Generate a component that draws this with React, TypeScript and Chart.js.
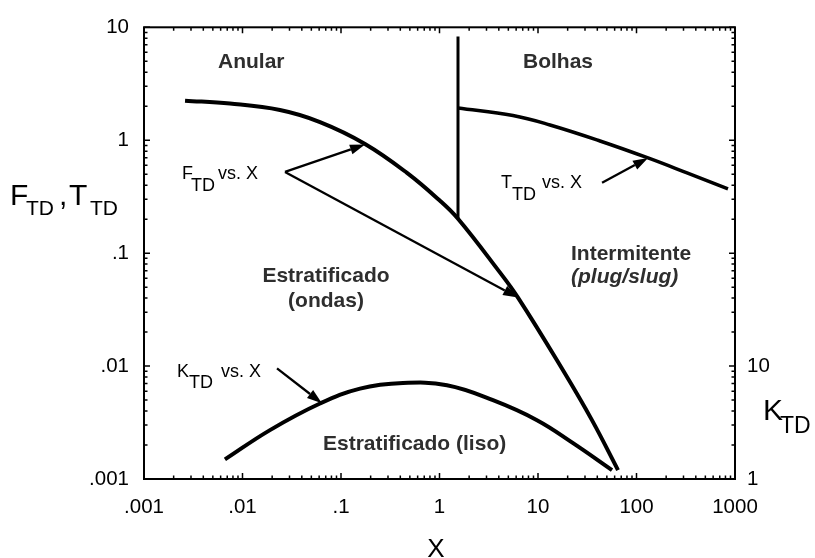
import React, { useEffect, useRef } from 'react';
import { Chart, registerables } from 'chart.js';

Chart.register(...registerables);

const FONT = '"Liberation Sans", Arial, Helvetica, sans-serif';

// Axis ticks
const xTickValues = [0.001, 0.01, 0.1, 1, 10, 100, 1000];
const xTickLabels = ['.001', '.01', '.1', '1', '10', '100', '1000'];
const yTickValues = [0.001, 0.01, 0.1, 1, 10];
const yTickLabels = ['.001', '.01', '.1', '1', '10'];
const kTickValues = [1, 10];
const kTickLabels = ['1', '10'];

// F_TD vs. X transition boundary
const fX = [0.00261, 0.00746, 0.024, 0.0612, 0.1753, 0.4677, 1.012, 1.541, 3.836, 6.266, 17.94, 35.3, 64.9];
const fY = [2.24, 2.11, 1.85, 1.447, 0.927, 0.514, 0.291, 0.2017, 0.0729, 0.0404, 0.00917, 0.00332, 0.0012];

// Vertical boundary between annular and intermittent/bubble flow
const vX = [1.541, 1.541];
const vY = [0.2017, 8.3];

// T_TD vs. X boundary
const tX = [1.541, 5.574, 13.24, 42.6, 130.9, 325.6, 849];
const tY = [1.927, 1.654, 1.364, 0.985, 0.697, 0.514, 0.371];

// K_TD vs. X boundary (right axis)
const kX = [0.00663, 0.019, 0.0612, 0.156, 0.426, 1.19, 3.49, 9.77, 22.7, 56.4];
const kY = [1.49, 2.71, 4.66, 6.32, 7.08, 6.76, 4.99, 3.32, 2.08, 1.2];

// Pointer arrows: [xFrom, yFrom, xTo, yTo, axis]
const arrowF1 = [0.027, 0.524, 0.1753, 0.915, 'y'];
const arrowF2 = [0.027, 0.524, 6.266, 0.0404, 'y'];
const arrowT = [44.7, 0.42, 130.9, 0.697, 'y'];
const arrowK = [0.0224, 9.55, 0.064, 4.69, 'y2'];

const pts = (xs: number[], ys: number[]) => xs.map((x, i) => ({ x, y: ys[i] }));

const lineStyle = (w: number, tension: number) => ({
  showLine: true,
  borderColor: '#000',
  backgroundColor: '#000',
  borderWidth: w,
  pointRadius: 0,
  pointHoverRadius: 0,
  tension,
  borderCapStyle: 'butt' as const,
  borderJoinStyle: 'round' as const,
});

function drawArrow(ctx: CanvasRenderingContext2D, x0: number, y0: number, x1: number, y1: number) {
  const ang = Math.atan2(y1 - y0, x1 - x0);
  const head = 15;
  const half = 5;
  const bx = x1 - head * Math.cos(ang);
  const by = y1 - head * Math.sin(ang);
  ctx.beginPath();
  ctx.moveTo(x0, y0);
  ctx.lineTo(bx, by);
  ctx.lineWidth = 2.3;
  ctx.strokeStyle = '#000';
  ctx.stroke();
  ctx.beginPath();
  ctx.moveTo(x1, y1);
  ctx.lineTo(bx + half * Math.sin(ang), by - half * Math.cos(ang));
  ctx.lineTo(bx - half * Math.sin(ang), by + half * Math.cos(ang));
  ctx.closePath();
  ctx.fillStyle = '#000';
  ctx.fill();
}

function subLabel(ctx: CanvasRenderingContext2D, parts: [string, number, number, number][], color: string) {
  // parts: text, x, baseline, size
  ctx.fillStyle = color;
  ctx.textAlign = 'left';
  ctx.textBaseline = 'alphabetic';
  for (const [t, x, y, s] of parts) {
    ctx.font = `${s}px ${FONT}`;
    ctx.fillText(t, x, y);
  }
}

const framePlugin = {
  id: 'frameAndNotes',
  afterDraw(chart: any) {
    const { ctx, chartArea: a, scales } = chart;
    const sx = scales.x;
    const sy = scales.y;
    const sk = scales.y2;
    ctx.save();

    // frame
    ctx.strokeStyle = '#000';
    ctx.lineWidth = 2;
    ctx.strokeRect(a.left, a.top, a.right - a.left, a.bottom - a.top);

    // inward tick marks
    ctx.lineWidth = 1.5;
    ctx.beginPath();
    for (let d = -3; d <= 3; d++) {
      for (let m = 1; m <= 9; m++) {
        const v = m * Math.pow(10, d);
        if (v > 1000 * 1.0001) break;
        const p = sx.getPixelForValue(v);
        const len = m === 1 ? 6 : 3.5;
        ctx.moveTo(p, a.bottom);
        ctx.lineTo(p, a.bottom - len);
        ctx.moveTo(p, a.top);
        ctx.lineTo(p, a.top + len);
      }
    }
    for (let d = -3; d <= 1; d++) {
      for (let m = 1; m <= 9; m++) {
        const v = m * Math.pow(10, d);
        if (v > 10 * 1.0001) break;
        const p = sy.getPixelForValue(v);
        const len = m === 1 ? 6 : 3.5;
        ctx.moveTo(a.left, p);
        ctx.lineTo(a.left + len, p);
      }
    }
    for (let d = 0; d <= 4; d++) {
      for (let m = 1; m <= 9; m++) {
        const v = m * Math.pow(10, d);
        if (v > 10000 * 1.0001) break;
        const p = sk.getPixelForValue(v);
        const len = m === 1 ? 6 : 3.5;
        ctx.moveTo(a.right, p);
        ctx.lineTo(a.right - len, p);
      }
    }
    ctx.stroke();

    // arrows
    for (const ar of [arrowF1, arrowF2, arrowT, arrowK]) {
      const ys = ar[4] === 'y2' ? sk : sy;
      drawArrow(
        ctx,
        sx.getPixelForValue(ar[0] as number),
        ys.getPixelForValue(ar[1] as number),
        sx.getPixelForValue(ar[2] as number),
        ys.getPixelForValue(ar[3] as number)
      );
    }

    // axis titles
    subLabel(ctx, [
      ['F', 10, 205, 30],
      ['TD', 26, 215, 21],
      [',', 59, 205, 30],
      ['T', 69, 205, 30],
      ['TD', 90, 215, 21],
    ], '#000');
    subLabel(ctx, [
      ['K', 763, 420, 30],
      ['TD', 780, 433, 23],
    ], '#000');
    ctx.font = `26px ${FONT}`;
    ctx.textAlign = 'center';
    ctx.fillStyle = '#000';
    ctx.fillText('X', 436, 557);

    // curve captions
    subLabel(ctx, [
      ['F', 182, 179, 18],
      ['TD', 191, 191, 18],
      ['vs. X', 218, 179, 18],
    ], '#000');
    subLabel(ctx, [
      ['T', 501, 188, 18],
      ['TD', 512, 200, 18],
      ['vs. X', 542, 188, 18],
    ], '#000');
    subLabel(ctx, [
      ['K', 177, 377, 18],
      ['TD', 189, 388, 18],
      ['vs. X', 221, 377, 18],
    ], '#000');

    // flow regime names
    const gray = '#2e2e2e';
    ctx.fillStyle = gray;
    ctx.textAlign = 'left';
    ctx.font = `bold 21px ${FONT}`;
    ctx.fillText('Anular', 218, 68);
    ctx.fillText('Bolhas', 523, 68);
    ctx.fillText('Intermitente', 571, 260);
    ctx.fillText('Estratificado (liso)', 323, 450);
    ctx.textAlign = 'center';
    ctx.fillText('Estratificado', 326, 282);
    ctx.fillText('(ondas)', 326, 307);
    ctx.textAlign = 'left';
    ctx.font = `italic bold 21px ${FONT}`;
    ctx.fillText('(plug/slug)', 571, 283);

    ctx.restore();
  },
};

const tickFont = { family: FONT, size: 20.5 };
const noGrid = { display: false, drawTicks: false };

export default function App() {
  const ref = useRef<HTMLCanvasElement | null>(null);

  useEffect(() => {
    if (!ref.current) return;
    const chart = new Chart(ref.current, {
      type: 'scatter',
      data: {
        datasets: [
          { data: pts(fX, fY), yAxisID: 'y', ...lineStyle(4, 0.4) },
          { data: pts(vX, vY), yAxisID: 'y', ...lineStyle(3, 0) },
          { data: pts(tX, tY), yAxisID: 'y', ...lineStyle(3.5, 0.4) },
          { data: pts(kX, kY), yAxisID: 'y2', ...lineStyle(4, 0.4) },
        ],
      },
      options: {
        responsive: false,
        animation: false,
        events: [],
        layout: { padding: { top: 26, left: 0, right: 0, bottom: 0 } },
        plugins: { legend: { display: false }, tooltip: { enabled: false } },
        scales: {
          x: {
            type: 'logarithmic',
            min: 0.001,
            max: 1000,
            afterBuildTicks: (s: any) => {
              s.ticks = xTickValues.map((value) => ({ value }));
            },
            afterFit: (s: any) => {
              s.height = 79;
            },
            ticks: {
              autoSkip: false,
              maxRotation: 0,
              padding: 16,
              color: '#000',
              font: tickFont,
              callback: (v: any) => xTickLabels[xTickValues.indexOf(Number(v))] ?? '',
            },
            grid: noGrid,
            border: { display: false },
          },
          y: {
            type: 'logarithmic',
            position: 'left',
            min: 0.001,
            max: 10,
            afterBuildTicks: (s: any) => {
              s.ticks = yTickValues.map((value) => ({ value }));
            },
            afterFit: (s: any) => {
              s.width = 144;
            },
            ticks: {
              autoSkip: false,
              padding: 15,
              color: '#000',
              font: tickFont,
              callback: (v: any) => yTickLabels[yTickValues.indexOf(Number(v))] ?? '',
            },
            grid: noGrid,
            border: { display: false },
          },
          y2: {
            type: 'logarithmic',
            position: 'right',
            min: 1,
            max: 10000,
            afterBuildTicks: (s: any) => {
              s.ticks = kTickValues.map((value) => ({ value }));
            },
            afterFit: (s: any) => {
              s.width = 80;
            },
            ticks: {
              autoSkip: false,
              padding: 12,
              color: '#000',
              font: tickFont,
              callback: (v: any) => kTickLabels[kTickValues.indexOf(Number(v))] ?? '',
            },
            grid: noGrid,
            border: { display: false },
          },
        },
      },
      plugins: [framePlugin],
    } as any);
    return () => chart.destroy();
  }, []);

  return (
    <div style={{ position: 'absolute', left: 0, top: 0, width: 815, height: 558, background: '#fff' }}>
      <canvas ref={ref} width={815} height={558} style={{ width: 815, height: 558, display: 'block' }} />
    </div>
  );
}
